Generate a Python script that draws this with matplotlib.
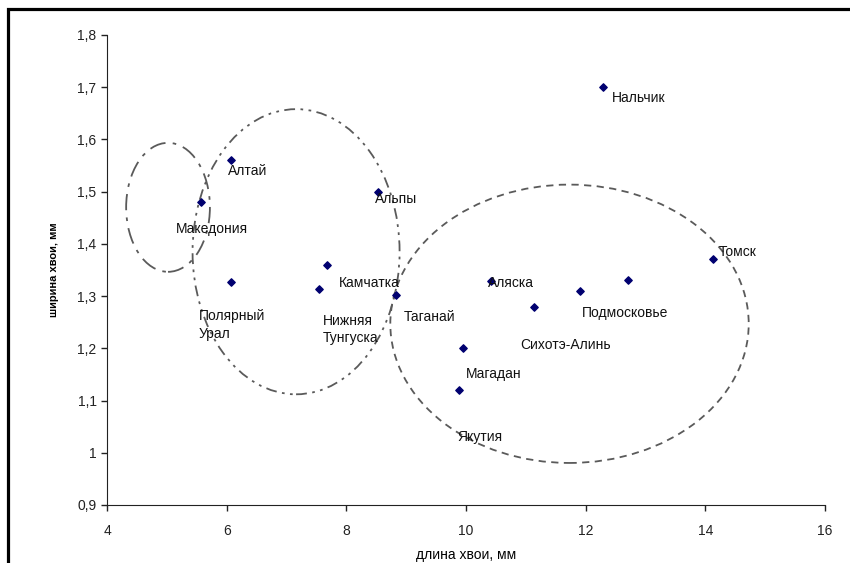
import matplotlib
matplotlib.use("Agg")
import matplotlib.pyplot as plt
from matplotlib.patches import Ellipse, Rectangle
from matplotlib.ticker import FuncFormatter

plt.rcParams['font.family'] = ['Liberation Sans', 'DejaVu Sans']

# данные: длина и ширина хвои
dlina = [12.29, 6.07, 5.57, 8.53, 6.07, 7.55, 7.68, 8.83, 10.42, 11.14, 11.91, 12.70, 14.12, 9.95, 9.89]
shirina = [1.70, 1.56, 1.48, 1.50, 1.327, 1.314, 1.36, 1.302, 1.329, 1.279, 1.31, 1.331, 1.371, 1.20, 1.12]
nazvaniya = ["Нальчик", "Алтай", "Македония", "Альпы", "Полярный\nУрал", "Нижняя\nТунгуска",
             "Камчатка", "Таганай", "Аляска", "Сихотэ-Алинь", "Подмосковье", "", "Томск",
             "Магадан", "Якутия"]
# смещение подписей в пикселях
smeshenie = [(9, -11), (-3, -11), (-25, -27), (-3, -7), (-32, -43), (3, -41),
             (12, -18), (8, -22), (-3, -2), (-14, -38), (2, -22), (0, 0), (6, 7),
             (3, -26), (-2, -47)]

# группы (эллипсы): центр x, центр y, ширина, высота
ell_x = [5.02, 7.16, 11.73]
ell_y = [1.47, 1.385, 1.247]
ell_w = [1.40, 3.46, 5.99]
ell_h = [0.247, 0.546, 0.533]
ell_ls = [(0, (9, 4, 2, 4)), (0, (6, 3, 1.5, 3, 1.5, 3)), (0, (4, 3))]

fig = plt.figure(figsize=(8.5, 5.63), dpi=100)
ax = fig.add_axes([107/850, 1 - 505/563, (825 - 107)/850, (505 - 35)/563])

ax.scatter(dlina, shirina, marker='D', s=14, color='#000070', zorder=3)

for x, y, t, (dx, dy) in zip(dlina, shirina, nazvaniya, smeshenie):
    if t == "":
        continue
    ax.annotate(t, (x, y), xytext=(dx, dy), textcoords='offset pixels',
                ha='left', va='center', fontsize=10, color='#111111',
                linespacing=1.3)

for cx, cy, w, h, ls in zip(ell_x, ell_y, ell_w, ell_h, ell_ls):
    ax.add_patch(Ellipse((cx, cy), w, h, fill=False, edgecolor='#5a5a5a',
                         linewidth=1.3, linestyle=ls))

ax.set_xlim(4, 16)
ax.set_ylim(0.9, 1.8)
ax.set_xticks([4, 6, 8, 10, 12, 14, 16])
ax.set_yticks([0.9, 1.0, 1.1, 1.2, 1.3, 1.4, 1.5, 1.6, 1.7, 1.8])
ax.yaxis.set_major_formatter(FuncFormatter(lambda v, p: ("%g" % round(v, 1)).replace('.', ',')))

ax.spines['top'].set_visible(False)
ax.spines['right'].set_visible(False)
ax.spines['left'].set_color('#222222')
ax.spines['bottom'].set_color('#222222')
ax.tick_params(direction='out', length=4, width=1, colors='#222222', labelsize=10)
ax.tick_params(axis='x', pad=10)

ax.set_xlabel("длина хвои, мм", fontsize=10, labelpad=7)
ax.set_ylabel("ширина хвои, мм", fontsize=8, fontweight='bold', labelpad=13)

# рамка вокруг рисунка
fig.patches.append(Rectangle((8/850, -0.1), 1.2, 1 - 9/563 + 0.1, transform=fig.transFigure,
                             fill=False, edgecolor='black', linewidth=2.3))

plt.savefig("out.png", dpi=100)
